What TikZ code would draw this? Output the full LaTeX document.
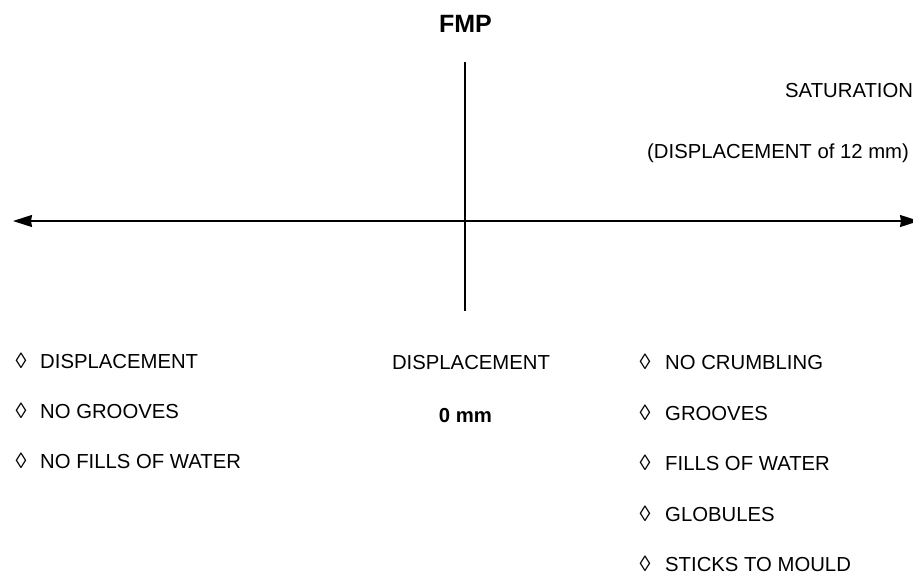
\documentclass[tikz,border=0pt]{standalone}
\usepackage{fontspec}
\setmainfont{Liberation Sans}
\usetikzlibrary{arrows.meta}
\tikzset{
  axis/.style={line width=1.5pt, {Stealth[length=19pt,width=12pt,inset=1pt]}-{Stealth[length=19pt,width=12pt,inset=1pt]}},
  vline/.style={line width=1.5pt},
  lbl/.style={inner sep=0pt, font=\fontsize{20.3}{24}\selectfont},
  blbl/.style={inner sep=0pt, font=\fontsize{20.3}{24}\selectfont\bfseries},
  bullet/.style={inner sep=0pt, anchor=base, font=\fontsize{22}{24}\selectfont},
  item/.style={inner sep=0pt, anchor=base west, font=\fontsize{20.3}{24}\selectfont}
}
\begin{document}
\begin{tikzpicture}[x=1pt,y=-1pt]
\useasboundingbox (0,0) rectangle (913,576);
% axes
\coordinate (L) at (13,221);
\coordinate (R) at (919,221);
\coordinate (T) at (465,62);
\coordinate (B) at (465,311);
\draw[axis] (L) -- (R);
\draw[vline] (T) -- (B);
% titles
\node[inner sep=0pt, anchor=base, font=\fontsize{25}{30}\selectfont\bfseries] (fmp) at (465.5,32.5) {FMP};
\node[lbl, anchor=base west] (sat) at (785,97) {SATURATION};
\node[lbl, anchor=base west] (d12) at (647,158) {(DISPLACEMENT of 12 mm)};
\node[lbl, anchor=base] (d0) at (471,369) {DISPLACEMENT};
\node[blbl, anchor=base] (mm0) at (465.5,422) {0 mm};
% left list
\node[bullet] (lb1) at (21,368) {◊};
\node[item] (lt1) at (40,368) {DISPLACEMENT};
\node[bullet] (lb2) at (21,418) {◊};
\node[item] (lt2) at (40,418) {NO GROOVES};
\node[bullet] (lb3) at (21,468) {◊};
\node[item] (lt3) at (40,468) {NO FILLS OF WATER};
% right list
\node[bullet] (rb1) at (645,369) {◊};
\node[item] (rt1) at (665,369) {NO CRUMBLING};
\node[bullet] (rb2) at (645,420) {◊};
\node[item] (rt2) at (665,420) {GROOVES};
\node[bullet] (rb3) at (645,470) {◊};
\node[item] (rt3) at (665,470) {FILLS OF WATER};
\node[bullet] (rb4) at (645,521) {◊};
\node[item] (rt4) at (665,521) {GLOBULES};
\node[bullet] (rb5) at (645,571) {◊};
\node[item] (rt5) at (665,571) {STICKS TO MOULD};
\end{tikzpicture}
\end{document}
